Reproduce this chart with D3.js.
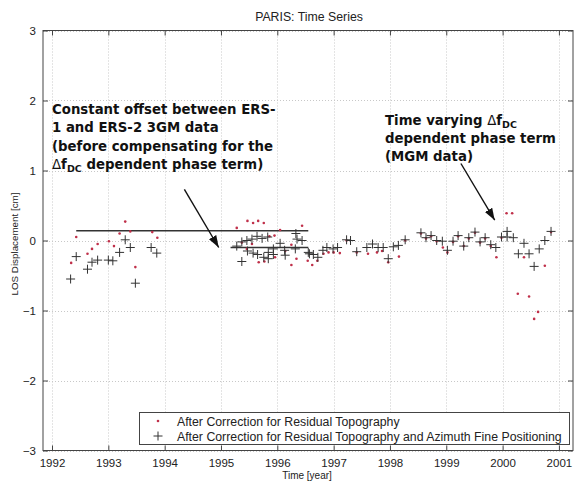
<!DOCTYPE html>
<html>
<head>
<meta charset="utf-8">
<script src="https://cdn.jsdelivr.net/npm/d3@7"></script>
<style>
  body { margin: 0; background: #fff; }
  text { font-family: "Liberation Sans", Arial, sans-serif; }
  .note { font-family: "DejaVu Sans", Verdana, sans-serif; font-weight: bold; font-size: 13.3px; fill: #111; }
</style>
</head>
<body>
<svg id="root" width="579" height="482" xmlns="http://www.w3.org/2000/svg"></svg>
<script>
// year, LOS displacement [cm]
var topoYears = [1992.34,1992.43,1992.63,1992.71,1992.81,1993.01,1993.10,1993.20,1993.30,1993.39,1993.48,1993.78,1993.87,
  1995.28,1995.37,1995.46,1995.47,1995.55,1995.57,1995.66,1995.67,1995.76,1995.77,1995.86,1995.95,1995.96,1996.05,1996.14,1996.25,1996.25,1996.34,1996.44,1996.54,1996.62,
  1996.71,1996.82,1996.91,1997.00,1997.11,1997.23,1997.41,1997.61,1997.77,1997.86,1997.97,1998.16,1998.27,
  1998.55,1998.64,1998.73,1998.83,1998.94,1999.02,1999.12,1999.21,1999.31,1999.40,1999.51,1999.60,1999.69,1999.79,1999.89,1999.98,
  2000.07,2000.17,2000.27,2000.38,2000.47,2000.56,2000.63,2000.75,2000.86];
var topoValues = [-0.32,0.05,-0.19,-0.12,-0.05,-0.01,-0.08,0.10,0.27,0.13,-0.38,0.12,0.04,
  0.18,-0.03,-0.12,0.28,-0.05,0.25,0.28,-0.31,0.25,-0.30,0.06,0.07,-0.24,0.15,-0.15,-0.06,-0.35,-0.26,0.21,-0.29,-0.35,
  -0.29,-0.19,-0.17,-0.17,-0.18,0.00,-0.17,-0.19,-0.17,-0.15,-0.31,-0.23,0.00,
  0.10,0.03,0.06,-0.01,-0.10,-0.17,-0.02,0.06,-0.08,0.03,0.11,-0.03,0.03,-0.08,-0.24,0.04,
  0.39,0.39,-0.76,-0.24,-0.80,-1.12,-1.02,-0.36,0.12];

var aziYears = [1992.33,1992.43,1992.63,1992.71,1992.81,1993.00,1993.08,1993.20,1993.30,1993.39,1993.48,1993.76,1993.86,
  1995.28,1995.37,1995.37,1995.46,1995.47,1995.55,1995.57,1995.64,1995.65,1995.73,1995.76,1995.83,1995.84,1995.84,1995.93,1995.93,
  1996.05,1996.13,1996.14,1996.32,1996.33,1996.35,1996.44,1996.55,1996.57,1996.64,1996.72,1996.81,1996.88,1996.99,1997.07,
  1997.23,1997.30,1997.41,1997.59,1997.69,1997.79,1997.88,1997.97,1998.06,1998.15,1998.27,
  1998.55,1998.64,1998.73,1998.83,1998.93,1999.02,1999.12,1999.21,1999.31,1999.40,1999.51,1999.60,1999.69,1999.79,1999.88,1999.98,
  2000.08,2000.08,2000.19,2000.28,2000.38,2000.47,2000.56,2000.65,2000.75,2000.86];
var aziValues = [-0.55,-0.23,-0.41,-0.31,-0.28,-0.28,-0.29,-0.17,0.01,-0.10,-0.61,-0.10,-0.18,
  -0.08,-0.02,-0.30,0.00,-0.15,0.02,-0.18,0.06,-0.20,0.03,-0.24,0.05,-0.17,-0.26,-0.12,-0.20,
  -0.04,-0.14,-0.21,-0.12,0.10,0.02,0.00,-0.17,-0.19,-0.20,-0.24,-0.14,-0.10,-0.12,-0.10,
  0.01,0.00,-0.16,-0.10,-0.05,-0.10,-0.10,-0.26,-0.09,-0.07,0.01,
  0.11,0.04,0.07,0.00,-0.01,-0.14,-0.01,0.07,-0.08,0.04,0.12,-0.02,0.04,-0.06,-0.10,0.05,
  0.13,0.05,0.04,-0.19,-0.04,-0.19,-0.37,-0.12,0.00,0.13];

// offset levels drawn as horizontal lines [startYear, endYear, value]
var offsetLines = [[1992.43, 1996.55, 0.14], [1995.17, 1996.55, -0.10]];

var xTicks = [1992,1993,1994,1995,1996,1997,1998,1999,2000,2001];
var yTicks = [-3,-2,-1,0,1,2,3];
var legendLabels = ["After Correction for Residual Topography",
  "After Correction for Residual Topography and Azimuth Fine Positioning"];

var svg = d3.select('#root');
var x = d3.scaleLinear().domain([1991.84, 2001.25]).range([43, 573]);
var y = d3.scaleLinear().domain([-3, 3]).range([450.5, 30.5]);

// grid
var grid = svg.append('g').attr('stroke', '#c8c8c8').attr('stroke-width', 1).attr('stroke-dasharray', '1,2');
grid.selectAll('.gx').data(xTicks).enter().append('line')
  .attr('x1', function(d) { return Math.round(x(d)) + 0.5; })
  .attr('x2', function(d) { return Math.round(x(d)) + 0.5; })
  .attr('y1', y(3)).attr('y2', y(-3));
grid.selectAll('.gy').data(yTicks).enter().append('line')
  .attr('y1', function(d) { return Math.round(y(d)) + 0.5; })
  .attr('y2', function(d) { return Math.round(y(d)) + 0.5; })
  .attr('x1', x.range()[0]).attr('x2', x.range()[1]);

// axes, matlab style (ticks inside, all four sides)
function styleAxis(g) {
  g.select('.domain').remove();
  g.selectAll('line').attr('stroke', '#444');
  g.selectAll('text').attr('fill', '#222').style('font-size', '11.5px')
    .style('font-family', '"Liberation Sans", Arial, sans-serif');
}
svg.append('g').attr('transform', 'translate(0,' + y(-3) + ')')
  .call(d3.axisBottom(x).tickValues(xTicks).tickFormat(d3.format('d')).tickSizeInner(-5).tickPadding(8))
  .call(styleAxis);
svg.append('g').attr('transform', 'translate(0,' + y(3) + ')')
  .call(d3.axisTop(x).tickValues(xTicks).tickFormat('').tickSizeInner(-5))
  .call(styleAxis);
svg.append('g').attr('transform', 'translate(' + x.range()[0] + ',0)')
  .call(d3.axisLeft(y).tickValues(yTicks).tickFormat(d3.format('d')).tickSizeInner(-5).tickPadding(7))
  .call(styleAxis);
svg.append('g').attr('transform', 'translate(' + x.range()[1] + ',0)')
  .call(d3.axisRight(y).tickValues(yTicks).tickFormat('').tickSizeInner(-5))
  .call(styleAxis);
svg.append('rect')
  .attr('x', x.range()[0]).attr('y', y(3))
  .attr('width', x.range()[1] - x.range()[0]).attr('height', y(-3) - y(3))
  .attr('fill', 'none').attr('stroke', '#444').attr('stroke-width', 1);

// offset lines
svg.selectAll('.offset').data(offsetLines).enter().append('line')
  .attr('x1', function(d) { return x(d[0]); })
  .attr('x2', function(d) { return x(d[1]); })
  .attr('y1', function(d) { return y(d[2]); })
  .attr('y2', function(d) { return y(d[2]); })
  .attr('stroke', '#333').attr('stroke-width', 1.6);

// red dots
var topo = d3.zip(topoYears, topoValues);
svg.selectAll('.dot').data(topo).enter().append('circle')
  .attr('cx', function(d) { return x(d[0]); })
  .attr('cy', function(d) { return y(d[1]); })
  .attr('r', 1.3).attr('fill', '#c0304a');

// plus markers
var azi = d3.zip(aziYears, aziValues);
svg.selectAll('.plus').data(azi).enter().append('path')
  .attr('d', 'M-4.5,0H4.5M0,-4.5V4.5')
  .attr('transform', function(d) { return 'translate(' + x(d[0]) + ',' + y(d[1]) + ')'; })
  .attr('stroke', '#333').attr('stroke-width', 1).attr('fill', 'none');

// annotations
svg.append('defs').append('marker')
  .attr('id', 'head').attr('viewBox', '0 0 10 10').attr('refX', 10).attr('refY', 5)
  .attr('markerWidth', 12).attr('markerHeight', 12).attr('markerUnits', 'userSpaceOnUse')
  .attr('orient', 'auto')
  .append('path').attr('d', 'M0,1.5L10,5L0,8.5Z').attr('fill', '#111');

var arrows = [[1994.35, 0.73, 1994.96, -0.10], [1999.26, 1.10, 1999.86, 0.29]];
svg.selectAll('.arrow').data(arrows).enter().append('line')
  .attr('x1', function(d) { return x(d[0]); })
  .attr('y1', function(d) { return y(d[1]); })
  .attr('x2', function(d) { return x(d[2]); })
  .attr('y2', function(d) { return y(d[3]); })
  .attr('stroke', '#111').attr('stroke-width', 1.4).attr('marker-end', 'url(#head)');

// one line holding "Δf" with a DC subscript
function deltaLine(px, py, pre, post) {
  var t = svg.append('text').attr('class', 'note').attr('x', px).attr('y', py);
  if (pre) t.append('tspan').text(pre);
  t.append('tspan').style('font-weight', 'normal').text('\u0394');
  t.append('tspan').text('f');
  t.append('tspan').attr('dy', 3).style('font-size', '9.5px').text('DC');
  if (post) t.append('tspan').attr('dy', -3).text(post);
}
function noteLine(px, py, s) {
  svg.append('text').attr('class', 'note').attr('x', px).attr('y', py).text(s);
}

noteLine(52, 114, 'Constant offset between ERS-');
noteLine(52, 132, '1 and ERS-2 3GM data');
noteLine(52, 151, '(before compensating for the');
deltaLine(52, 169, '', ' dependent phase term)');

deltaLine(385, 125, 'Time varying ', '');
noteLine(385, 143, 'dependent phase term');
noteLine(385, 161, '(MGM data)');

// legend
var lg = svg.append('g');
lg.append('rect').attr('x', 139.5).attr('y', 412.5).attr('width', 430).attr('height', 32)
  .attr('fill', '#fff').attr('stroke', '#444');
lg.append('circle').attr('cx', 158).attr('cy', 421).attr('r', 1.3).attr('fill', '#c0304a');
lg.append('path').attr('d', 'M-4.5,0H4.5M0,-4.5V4.5').attr('transform', 'translate(158,436)')
  .attr('stroke', '#333').attr('fill', 'none');
lg.selectAll('.lt').data(legendLabels).enter().append('text')
  .attr('x', 177).attr('y', function(d, i) { return 425.5 + i * 15; })
  .style('font-size', '12.3px').attr('fill', '#222').text(function(d) { return d; });

// titles
svg.append('text').attr('x', 309).attr('y', 21).attr('text-anchor', 'middle')
  .style('font-size', '12.3px').attr('fill', '#222').text('PARIS: Time Series');
svg.append('text').attr('x', 307).attr('y', 479).attr('text-anchor', 'middle')
  .style('font-size', '10px').attr('fill', '#222').text('Time [year]');
svg.append('text').attr('transform', 'translate(17.5,244) rotate(-90)').attr('text-anchor', 'middle')
  .style('font-size', '9.8px').attr('fill', '#222').text('LOS Displacement [cm]');
</script>
</body>
</html>
